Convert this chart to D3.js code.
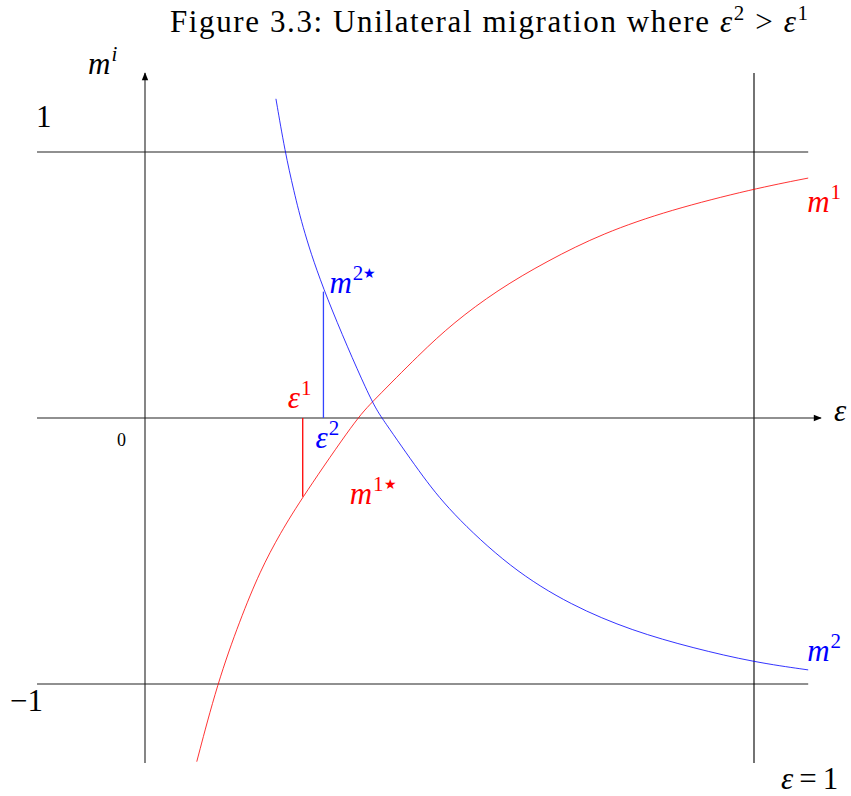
<!DOCTYPE html>
<html>
<head>
<meta charset="utf-8">
<script src="https://cdn.jsdelivr.net/npm/d3@7"></script>
<style>
  html, body { margin: 0; padding: 0; background: #fff; }
  svg { display: block; }
  text { font-family: "Liberation Serif", "DejaVu Serif", serif; }
</style>
</head>
<body>
<svg id="chart" width="851" height="796"></svg>
<script>
// Migration response of region 1 (m^1) as a function of ε
const m1Eps = [0.085, 0.119, 0.156, 0.189, 0.222, 0.259, 0.348, 0.372, 0.452, 0.506, 0.578, 0.660, 0.752, 0.862, 0.998, 1.089];
const m1Val = [-1.292, -0.996, -0.759, -0.575, -0.433, -0.296, 0.000, 0.0575, 0.243, 0.357, 0.480, 0.590, 0.695, 0.782, 0.861, 0.902];

// Migration response of region 2 (m^2) as a function of ε
const m2Eps = [0.215, 0.230, 0.244, 0.260, 0.293, 0.372, 0.389, 0.452, 0.500, 0.600, 0.700, 0.800, 0.900, 1.000, 1.089];
const m2Val = [1.200, 1.000, 0.857, 0.707, 0.475, 0.0575, 0.000, -0.208, -0.350, -0.565, -0.705, -0.800, -0.865, -0.918, -0.947];

// Thresholds and the migration levels reached there
const eps1 = 0.259, m1Star = -0.296;
const eps2 = 0.293, m2Star = 0.475;

// Reference levels on the vertical axis
const yTickValues = [1, -1];
const yTickLabels = ["1", "\u22121"];
const originLabel = "0";

const svg = d3.select("#chart");

const x = d3.scaleLinear().domain([0, 1]).range([145, 754]);
const y = d3.scaleLinear().domain([-1, 1]).range([684, 152]);

const epsMin = -0.1773, epsMax = 1.089, epsArrow = 1.110;
const mMin = -1.297, mMax = 1.297;

const axisColor = "#222";
const FS = 31, SUP = 21;

// arrowhead marker
svg.append("defs").append("marker")
  .attr("id", "arrow")
  .attr("viewBox", "0 0 10 10")
  .attr("refX", 9).attr("refY", 5)
  .attr("markerWidth", 10).attr("markerHeight", 8)
  .attr("markerUnits", "userSpaceOnUse")
  .attr("orient", "auto")
  .append("path").attr("d", "M0,1 L10,5 L0,9 Z").attr("fill", "#000");

// title
svg.append("text")
  .attr("x", 170).attr("y", 32)
  .attr("font-size", FS)
  .attr("textLength", 638).attr("lengthAdjust", "spacing")
  .call(t => {
    t.append("tspan").text("Figure 3.3: Unilateral migration where ");
    t.append("tspan").attr("font-style", "italic").text("\u03b5");
    t.append("tspan").attr("font-size", SUP).attr("dy", -12).text("2");
    t.append("tspan").attr("dy", 12).text(" > ");
    t.append("tspan").attr("font-style", "italic").text("\u03b5");
    t.append("tspan").attr("font-size", SUP).attr("dy", -12).text("1");
  });

// horizontal reference levels m = 1 and m = -1
svg.selectAll("line.level").data(yTickValues).join("line")
  .attr("class", "level")
  .attr("x1", x(epsMin)).attr("x2", x(epsMax))
  .attr("y1", d => y(d)).attr("y2", d => y(d))
  .attr("stroke", axisColor).attr("stroke-width", 1.1);

svg.selectAll("text.level").data(yTickValues).join("text")
  .attr("class", "level")
  .attr("x", d => d > 0 ? 36 : 10)
  .attr("y", d => d > 0 ? y(d) - 25 : y(d) + 27)
  .attr("font-size", FS)
  .text((d, i) => yTickLabels[i]);

// vertical line at ε = 1
svg.append("line")
  .attr("x1", x(1)).attr("x2", x(1))
  .attr("y1", y(mMax)).attr("y2", y(mMin))
  .attr("stroke", "#000").attr("stroke-width", 1.1);

// horizontal ε axis
svg.append("line")
  .attr("x1", x(epsMin)).attr("x2", x(epsArrow))
  .attr("y1", y(0)).attr("y2", y(0))
  .attr("stroke", axisColor).attr("stroke-width", 1.1)
  .attr("marker-end", "url(#arrow)");

// vertical m axis
svg.append("line")
  .attr("x1", x(0)).attr("x2", x(0))
  .attr("y1", y(mMin)).attr("y2", y(mMax))
  .attr("stroke", axisColor).attr("stroke-width", 1.1)
  .attr("marker-end", "url(#arrow)");

// axis labels
svg.append("text").attr("x", x(0) - 28).attr("y", y(0) + 28)
  .attr("font-size", 18).text(originLabel);

svg.append("text").attr("x", x(epsArrow) + 13).attr("y", y(0) + 3)
  .attr("font-size", FS).attr("font-style", "italic").text("\u03b5");

svg.append("text").attr("x", 88).attr("y", 74)
  .attr("font-size", FS)
  .call(t => {
    t.append("tspan").attr("font-style", "italic").text("m");
    t.append("tspan").attr("font-style", "italic").attr("font-size", SUP).attr("dy", -13).attr("dx", 1).text("i");
  });

svg.append("text").attr("x", 781).attr("y", 789)
  .attr("font-size", FS)
  .call(t => {
    t.append("tspan").attr("font-style", "italic").text("\u03b5");
    t.append("tspan").attr("dx", 6).text("=");
    t.append("tspan").attr("dx", 6).text("1");
  });

// curves (B-spline through the read points, smoothing reading noise)
const line = d3.line().x(d => x(d[0])).y(d => y(d[1])).curve(d3.curveBasis);
const m1Pts = d3.zip(m1Eps, m1Val);
const m2Pts = d3.zip(m2Eps, m2Val);

svg.append("path").attr("d", line(m1Pts))
  .attr("fill", "none").attr("stroke", "#ff0000").attr("stroke-width", 0.8);
svg.append("path").attr("d", line(m2Pts))
  .attr("fill", "none").attr("stroke", "#0000ff").attr("stroke-width", 0.8);

// threshold drops
svg.append("line")
  .attr("x1", x(eps1)).attr("x2", x(eps1))
  .attr("y1", y(0)).attr("y2", y(m1Star))
  .attr("stroke", "#ff0000").attr("stroke-width", 1.3);
svg.append("line")
  .attr("x1", x(eps2)).attr("x2", x(eps2))
  .attr("y1", y(0)).attr("y2", y(m2Star))
  .attr("stroke", "#3344ff").attr("stroke-width", 1.3);

// math-style labels: italic base with a superscript and optional star
function mathLabel(px, py, base, sup, color, star) {
  svg.append("text").attr("x", px).attr("y", py)
    .attr("font-size", FS).attr("fill", color)
    .call(t => {
      t.append("tspan").attr("font-style", "italic").text(base);
      t.append("tspan").attr("font-size", SUP).attr("dx", 1).attr("dy", -13).text(sup);
      if (star) t.append("tspan").attr("font-size", 14).attr("dy", -2).text("\u2605");
    });
}

mathLabel(x(m1Eps[m1Eps.length - 1]) - 1, 212, "m", "1", "#ff0000", false);
mathLabel(x(m2Eps[m2Eps.length - 1]) - 1, 661, "m", "2", "#0000ff", false);
mathLabel(x(eps2) + 6, 293, "m", "2", "#0000ff", true);
mathLabel(x(eps1) + 47, 504, "m", "1", "#ff0000", true);
mathLabel(x(eps1) - 15, 408, "\u03b5", "1", "#ff0000", false);
mathLabel(x(eps2) - 8, 448, "\u03b5", "2", "#0000ff", false);
</script>
</body>
</html>
